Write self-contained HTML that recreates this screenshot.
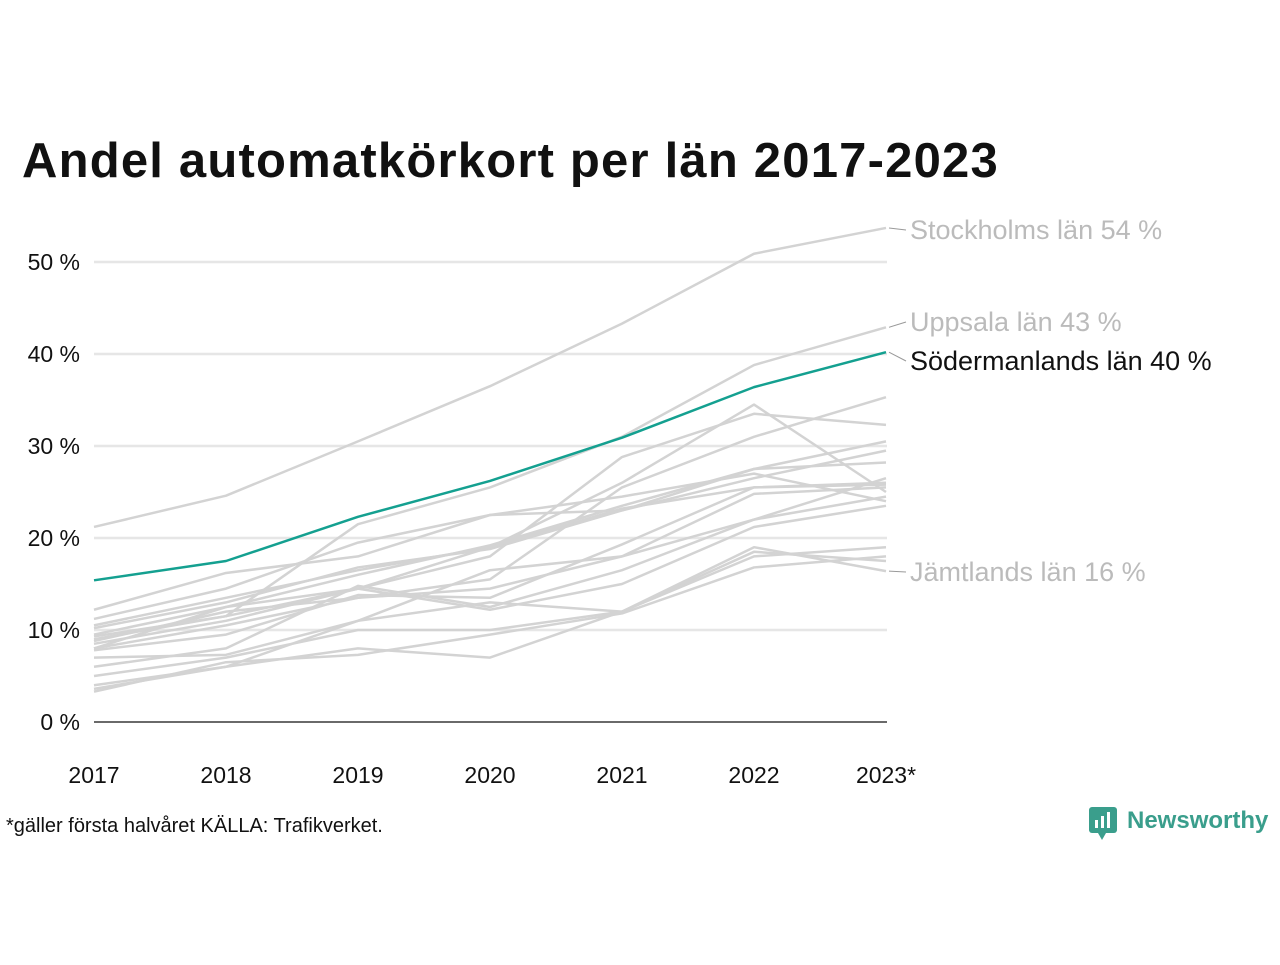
<!DOCTYPE html>
<html><head><meta charset="utf-8"><style>
body{margin:0;background:#fff;font-family:"Liberation Sans",sans-serif}
#wrap{position:relative;width:1280px;height:960px}
</style></head><body><div id="wrap">
<svg id="c" width="1280" height="960">
<text x="22" y="177" font-size="49" font-weight="bold" fill="#111" letter-spacing="1.2" font-family="Liberation Sans, sans-serif">Andel automatkörkort per län 2017-2023</text>
<text x="6" y="832" font-size="20" fill="#111">*gäller första halvåret KÄLLA: Trafikverket.</text>
<g>
<rect x="1089" y="807" width="28" height="26" rx="3" fill="#3a9e8c"/>
<polygon points="1098,833 1106,833 1102,840" fill="#3a9e8c"/>
<rect x="1095" y="820" width="3" height="8" fill="#fff"/><rect x="1101" y="816" width="3" height="12" fill="#fff"/><rect x="1107" y="812" width="3" height="16" fill="#fff"/>
<text x="1127" y="828" font-size="24" font-weight="bold" fill="#3a9e8c">Newsworthy</text>
</g>
</svg></div>
<script>
const years=["2017","2018","2019","2020","2021","2022","2023*"];
const yTicks=[0,10,20,30,40,50];
const stockholm=[21.2,24.6,30.5,36.5,43.3,50.9,53.7];
const uppsala=[9.3,11.5,21.5,25.5,31.0,38.8,42.9];
const sodermanland=[15.4,17.5,22.3,26.2,30.9,36.4,40.2];
const jamtland=[5.0,7.0,10.0,10.0,12.0,19.0,16.4];
const others=[
[12.2,16.2,18.0,22.5,24.5,27.0,24.0],
[11.2,14.5,19.5,22.5,23.0,27.5,30.5],
[10.5,13.5,16.5,19.0,26.0,34.5,25.0],
[10.2,13.0,16.8,18.8,23.0,26.5,29.5],
[9.5,12.5,16.0,19.2,23.5,27.5,28.2],
[9.0,11.5,14.5,18.0,28.8,33.5,32.3],
[8.5,11.0,14.5,19.0,23.2,25.5,26.0],
[8.0,10.5,13.5,15.5,25.5,31.0,35.3],
[8.8,12.0,13.5,14.5,18.0,24.8,25.5],
[7.8,9.5,13.8,13.5,19.3,25.5,25.8],
[7.0,7.3,11.0,16.5,18.0,22.0,26.5],
[8.0,12.5,14.5,12.2,15.0,21.2,23.5],
[6.0,8.0,14.8,12.5,16.5,22.0,24.5],
[4.0,6.0,11.0,13.0,12.0,18.0,19.0],
[3.6,6.0,8.0,7.0,12.0,18.5,17.5],
[3.3,6.5,7.3,9.5,11.8,16.8,18.0]];
const labels=[["Stockholms län 54 %",stockholm,"#bbb"],["Uppsala län 43 %",uppsala,"#bbb"],["Södermanlands län 40 %",sodermanland,"#111"],["Jämtlands län 16 %",jamtland,"#bbb"]];
const labelY=[239,331,370,581];
const svg=document.getElementById('c');const NS="http://www.w3.org/2000/svg";
const X=i=>94+i*132, Y=v=>722-v*9.2;
function el(t,a){const e=document.createElementNS(NS,t);for(const k in a)e.setAttribute(k,a[k]);svg.appendChild(e);return e;}
yTicks.forEach(t=>{
 const l=el('line',{x1:94,x2:887,y1:Y(t),y2:Y(t),stroke:t===0?'#111':'#e6e6e6','stroke-width':t===0?1.2:2.5});
 
 
 const tx=el('text',{x:80,y:Y(t)+8,'text-anchor':'end','font-size':23,fill:'#111'});tx.textContent=t+' %';
 
 
});
years.forEach((y,i)=>{const tx=el('text',{x:X(i),y:783,'text-anchor':'middle','font-size':23,fill:'#111'});tx.textContent=y;
 
 });
function line(d,c,w,name){const p=el('polyline',{points:d.map((v,i)=>X(i)+','+Y(v)).join(' '),fill:'none',stroke:c,'stroke-width':w,'stroke-linejoin':'round'});
 
 }
others.forEach(d=>line(d,'#d3d3d3',2.5,'county-line'));
line(stockholm,'#d3d3d3',2.5,'stockholm-line');line(uppsala,'#d3d3d3',2.5,'uppsala-line');line(jamtland,'#d3d3d3',2.5,'jamtland-line');
line(sodermanland,'#14a090',2.5,'sodermanland-line');
labels.forEach((L,i)=>{const v=L[1][6];
 el('line',{x1:889,y1:Y(v),x2:906,y2:labelY[i]-9,stroke:'#999','stroke-width':1});
 const tx=el('text',{x:910,y:labelY[i],'font-size':27,fill:L[2]});tx.textContent=L[0];
 
 });
</script></body></html>
